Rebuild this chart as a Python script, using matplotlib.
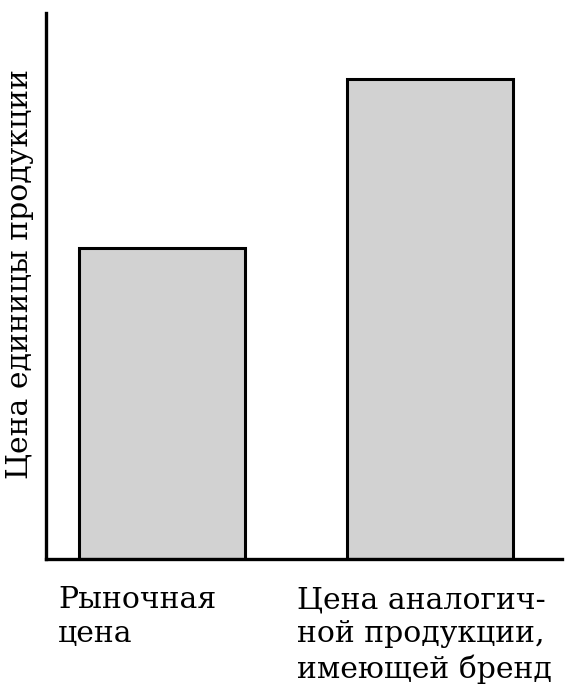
import matplotlib
matplotlib.use('Agg')
import matplotlib.pyplot as plt
import matplotlib.transforms as mtransforms

# данные
categories = ['Рыночная\nцена', 'Цена аналогич-\nной продукции,\nимеющей бренд']
values = [5.7, 8.8]
ylabel = 'Цена единицы продукции'

plt.rcParams['font.family'] = ['DejaVu Serif']

fig = plt.figure(figsize=(5.65, 6.88), dpi=100)
ax = fig.add_axes([46 / 565, 1 - 559 / 688, (562 - 46) / 565, (559 - 13) / 688])

x = list(range(len(values)))
ax.bar(x, values, width=0.62, color='#d2d2d2', edgecolor='black', linewidth=2.2, zorder=2)

ax.set_xlim(-0.434, 1.495)
ax.set_ylim(0, 10)

for side in ['top', 'right']:
    ax.spines[side].set_visible(False)
for side in ['left', 'bottom']:
    ax.spines[side].set_linewidth(2.4)
ax.set_xticks([])
ax.set_yticks([])

# подпись оси Y
fig.text(20 / 565, 1 - 274 / 688, ylabel, rotation=90, ha='center', va='center',
         fontsize=21.5)

# подписи категорий
trans = mtransforms.blended_transform_factory(ax.transData, ax.transAxes)
label_x = [-0.389, 0.504]
for lx, text in zip(label_x, categories):
    ax.text(lx, -0.05, text, transform=trans, ha='left', va='top',
            fontsize=21.5, linespacing=1.26)

fig.savefig('out.png', dpi=100)
